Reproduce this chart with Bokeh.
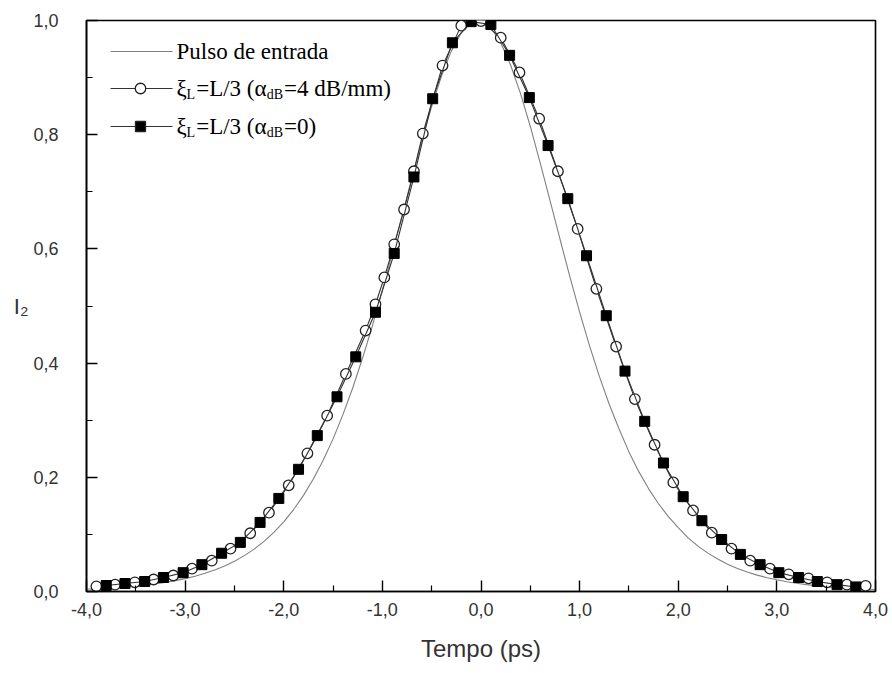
from bokeh.plotting import figure
from bokeh.models import Range1d, FixedTicker, CustomJSTickFormatter, Label
from bokeh.embed import file_html
from bokeh.resources import INLINE

# Input pulse (ps, normalised intensity)
t_input = [-4.0, -3.9, -3.8, -3.7, -3.6, -3.5, -3.4, -3.3, -3.2, -3.1,
           -3.0, -2.9, -2.8, -2.7, -2.6, -2.5, -2.4, -2.3, -2.2, -2.1,
           -2.0, -1.9, -1.8, -1.7, -1.6, -1.5, -1.4, -1.3, -1.2, -1.1,
           -1.0, -0.9, -0.8, -0.7, -0.6, -0.5, -0.4, -0.3, -0.2, -0.1,
           0.0, 0.1, 0.2, 0.3, 0.4, 0.5, 0.6, 0.7, 0.8, 0.9,
           1.0, 1.1, 1.2, 1.3, 1.4, 1.5, 1.6, 1.7, 1.8, 1.9,
           2.0, 2.1, 2.2, 2.3, 2.4, 2.5, 2.6, 2.7, 2.8, 2.9,
           3.0, 3.1, 3.2, 3.3, 3.4, 3.5, 3.6, 3.7, 3.8, 3.9, 4.0]
i_input = [0.0040, 0.0048, 0.0057, 0.0068, 0.0080, 0.0095, 0.0113, 0.0135, 0.0160, 0.0190,
           0.0225, 0.0268, 0.0318, 0.0377, 0.0447, 0.0531, 0.0628, 0.0742, 0.0877, 0.1036,
           0.1220, 0.1435, 0.1684, 0.1970, 0.2298, 0.2673, 0.3097, 0.3569, 0.4093, 0.4659,
           0.5274, 0.5917, 0.6578, 0.7243, 0.7900, 0.8495, 0.9031, 0.9468, 0.9784, 0.9963,
           0.9993, 0.9873, 0.9610, 0.9220, 0.8723, 0.8144, 0.7508, 0.6847, 0.6178, 0.5520,
           0.4894, 0.4307, 0.3767, 0.3279, 0.2845, 0.2445, 0.2099, 0.1798, 0.1537, 0.1312,
           0.1119, 0.0938, 0.0794, 0.0672, 0.0568, 0.0479, 0.0404, 0.0341, 0.0287, 0.0242,
           0.0205, 0.0171, 0.0144, 0.0121, 0.0102, 0.0086, 0.0072, 0.0061, 0.0051, 0.0043, 0.0036]

# Output with loss, alpha_dB = 4 dB/mm (open circles)
t_loss = [-3.90, -3.71, -3.51, -3.32, -3.12, -2.93, -2.73, -2.54, -2.34, -2.15,
          -1.95, -1.76, -1.56, -1.37, -1.17, -1.07, -0.98, -0.88, -0.78, -0.68,
          -0.59, -0.39, -0.20, 0.00, 0.20, 0.39, 0.59, 0.78, 0.98, 1.17,
          1.37, 1.56, 1.76, 1.95, 2.15, 2.34, 2.54, 2.73, 2.93, 3.12,
          3.32, 3.51, 3.71, 3.90]
i_loss = [0.009, 0.012, 0.016, 0.021, 0.028, 0.040, 0.054, 0.075, 0.102, 0.138,
          0.186, 0.242, 0.308, 0.381, 0.457, 0.503, 0.550, 0.608, 0.669, 0.736,
          0.802, 0.921, 0.991, 0.999, 0.970, 0.909, 0.828, 0.736, 0.635, 0.530,
          0.429, 0.337, 0.257, 0.191, 0.142, 0.103, 0.075, 0.054, 0.040, 0.030,
          0.023, 0.016, 0.012, 0.010]

# Output without loss, alpha_dB = 0 (filled squares)
t_lossless = [-3.80, -3.61, -3.41, -3.22, -3.02, -2.83, -2.63, -2.44, -2.24, -2.05,
              -1.85, -1.66, -1.46, -1.27, -1.07, -0.88, -0.68, -0.49, -0.29, -0.10,
              0.10, 0.29, 0.49, 0.68, 0.88, 1.07, 1.27, 1.46, 1.66, 1.85,
              2.05, 2.24, 2.44, 2.63, 2.83, 3.02, 3.22, 3.41, 3.61, 3.80]
i_lossless = [0.0105, 0.014, 0.0175, 0.0245, 0.033, 0.047, 0.067, 0.086, 0.121, 0.163,
              0.214, 0.273, 0.341, 0.411, 0.489, 0.592, 0.726, 0.863, 0.961, 0.998,
              0.993, 0.939, 0.865, 0.781, 0.688, 0.588, 0.483, 0.386, 0.298, 0.225,
              0.166, 0.124, 0.091, 0.065, 0.047, 0.033, 0.0245, 0.0175, 0.012, 0.008]

x_major = [-4.0, -3.0, -2.0, -1.0, 0.0, 1.0, 2.0, 3.0, 4.0]
x_minor = [-3.5, -2.5, -1.5, -0.5, 0.5, 1.5, 2.5, 3.5]
y_major = [0.0, 0.2, 0.4, 0.6, 0.8, 1.0]
y_minor = [0.1, 0.3, 0.5, 0.7, 0.9]

# Page and frame geometry (pixels)
W, H = 892, 673
B_LEFT, B_RIGHT, B_TOP, B_BOTTOM = 86, 17, 20, 82
X0, X1, Y0, Y1 = -4.0, 4.0, 0.0, 1.0
FRAME_W = W - B_LEFT - B_RIGHT
FRAME_H = H - B_TOP - B_BOTTOM


def dx(px):
    """Horizontal pixel offset from the frame's left edge -> data x."""
    return X0 + px * (X1 - X0) / FRAME_W


def dy(py):
    """Vertical pixel offset from the frame's top edge -> data y."""
    return Y1 - py * (Y1 - Y0) / FRAME_H


p = figure(width=W, height=H, x_range=Range1d(X0, X1), y_range=Range1d(Y0, Y1),
           output_backend="svg", toolbar_location=None,
           min_border_left=B_LEFT, min_border_right=B_RIGHT,
           min_border_top=B_TOP, min_border_bottom=B_BOTTOM)
p.grid.visible = False
p.background_fill_color = "white"
p.border_fill_color = "white"
p.outline_line_color = "black"
p.outline_line_width = 1.6

fmt = CustomJSTickFormatter(code="return tick.toFixed(1).replace('.', ',');")
for ax, major, minor in ((p.xaxis[0], x_major, x_minor), (p.yaxis[0], y_major, y_minor)):
    ax.ticker = FixedTicker(ticks=major, minor_ticks=minor)
    ax.formatter = fmt
    ax.axis_line_color = "black"
    ax.axis_line_width = 1.6
    ax.major_tick_in = 11
    ax.major_tick_out = 0
    ax.minor_tick_in = 6
    ax.minor_tick_out = 0
    ax.major_tick_line_width = 1.4
    ax.minor_tick_line_width = 1.2
    ax.major_tick_line_color = "black"
    ax.minor_tick_line_color = "black"
    ax.major_label_text_font = "Liberation Sans"
    ax.major_label_text_font_size = "18px"
    ax.major_label_text_color = "#333333"
    ax.axis_label_text_font = "Liberation Sans"
    ax.axis_label_text_font_style = "normal"
    ax.axis_label_text_color = "#333333"

p.xaxis.axis_label = "Tempo (ps)"
p.xaxis.axis_label_text_font_size = "24px"
p.xaxis.major_label_standoff = 11
p.xaxis.axis_label_standoff = 16

p.yaxis.axis_label = "I₂"
p.yaxis.axis_label_text_font_size = "22px"
p.yaxis.axis_label_orientation = "horizontal"
p.yaxis.major_label_standoff = 28
p.yaxis.axis_label_standoff = 2

# Curves
p.line(t_input, i_input, line_color="#808080", line_width=1.1)

p.line(t_loss, i_loss, line_color="#333333", line_width=1.1)
p.scatter(t_loss, i_loss, marker="circle", size=10.5, fill_color="white",
          line_color="#222222", line_width=1.3)

p.line(t_lossless, i_lossless, line_color="#333333", line_width=1.1)
p.scatter(t_lossless, i_lossless, marker="square", size=10, fill_color="black",
          line_color="black", line_width=1)

# Legend, drawn by hand so the subscripts can be set
LEG_LINE = (24, 86)      # key line span, px from frame left
LEG_MARK = 54            # key marker centre
LEG_TEXT = 90            # text start
LEG_ROWS = (31, 68, 106) # row centres, px from frame top
MAIN_FS, SUB_FS = 23, 14
SUB_DROP = 6
serif = "Liberation Serif"

# widths of the text pieces in em (Times-compatible metrics)
EM = {"ξ": 0.44, "=L/3 (α": 3.07, "=4 dB/mm)": 4.65, "=0)": 1.40, "L": 0.611, "dB": 1.167}


def put(text, px, row, size, drop=0):
    p.add_layout(Label(x=dx(px), y=dy(row + drop), text=text, text_font=serif,
                       text_font_size=f"{size}px", text_baseline="middle",
                       text_align="left", text_color="black"))


def key(row, marker=None, fill=None):
    y = dy(row)
    p.line([dx(LEG_LINE[0]), dx(LEG_LINE[1])], [y, y], line_color="#333333" if marker else "#808080",
           line_width=1.1)
    if marker:
        p.scatter([dx(LEG_MARK)], [y], marker=marker, size=10.5 if marker == "circle" else 10,
                  fill_color=fill, line_color="#222222", line_width=1.3)


def xi_label(row, tail):
    px = LEG_TEXT
    put("ξ", px, row, MAIN_FS)
    px += EM["ξ"] * MAIN_FS
    put("L", px, row, SUB_FS, SUB_DROP)
    px += EM["L"] * SUB_FS + 1
    put("=L/3 (α", px, row, MAIN_FS)
    px += EM["=L/3 (α"] * MAIN_FS
    put("dB", px, row, SUB_FS, SUB_DROP)
    px += EM["dB"] * SUB_FS + 1
    put(tail, px, row, MAIN_FS)


key(LEG_ROWS[0])
put("Pulso de entrada", LEG_TEXT, LEG_ROWS[0], MAIN_FS)
key(LEG_ROWS[1], "circle", "white")
xi_label(LEG_ROWS[1], "=4 dB/mm)")
key(LEG_ROWS[2], "square", "black")
xi_label(LEG_ROWS[2], "=0)")

open("out.html", "w").write(file_html(p, INLINE))
